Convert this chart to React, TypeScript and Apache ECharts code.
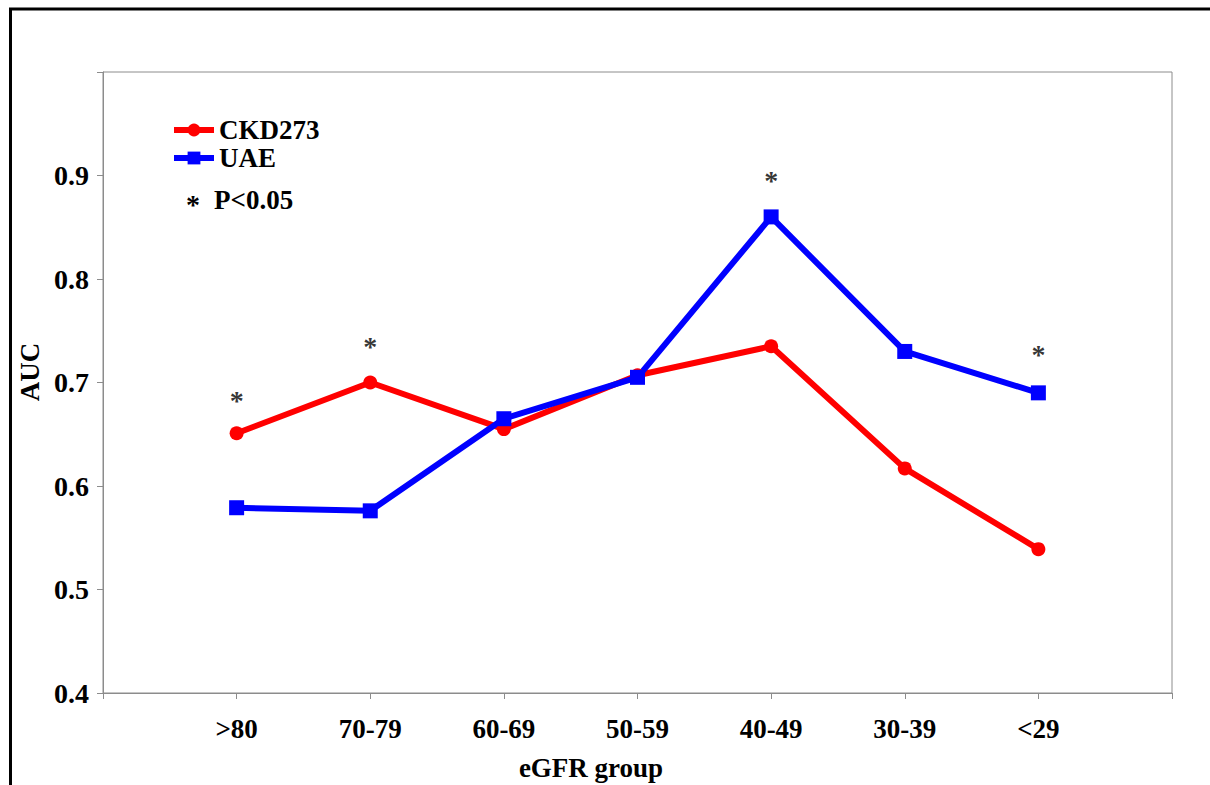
import React, { useEffect, useRef } from 'react';
import * as echarts from 'echarts';

const categories = ['', '>80', '70-79', '60-69', '50-59', '40-49', '30-39', '<29', ''];
const ckd273 = [null, 0.651, 0.7, 0.655, 0.707, 0.735, 0.617, 0.539, null];
const uae = [null, 0.579, 0.576, 0.665, 0.705, 0.86, 0.73, 0.69, null];
const significanceMarks = [null, 0.683, 0.735, null, null, 0.895, null, 0.727, null];
const yMin = 0.4;
const yMax = 1.0;
const yStep = 0.1;

const FONT = "'Liberation Serif', 'Times New Roman', serif";
const FS = 27;

export default function App() {
  const ref = useRef<HTMLDivElement>(null);
  useEffect(() => {
    if (!ref.current) return;
    const chart = echarts.init(ref.current, undefined, { renderer: 'svg' });
    chart.setOption({
      animation: false,
      backgroundColor: '#fff',
      grid: {
        left: 103,
        top: 72,
        right: 1210 - 1172,
        bottom: 785 - 693,
        show: true,
        borderColor: '#8c8c8c',
        borderWidth: 1,
        containLabel: false,
      },
      legend: {
        orient: 'vertical',
        left: 166,
        top: 111,
        itemWidth: 40,
        itemHeight: 16,
        itemGap: 0,
        data: ['CKD273', 'UAE'],
        lineStyle: { width: 6 },
        textStyle: { fontFamily: FONT, fontWeight: 'bold', fontSize: FS, lineHeight: 28, color: '#000' },
      },
      xAxis: {
        type: 'category',
        data: categories,
        boundaryGap: false,
        axisLine: { lineStyle: { color: '#8c8c8c', width: 1 } },
        axisTick: { show: true, length: 6, alignWithLabel: true, interval: 0, lineStyle: { color: '#8c8c8c' } },
        axisLabel: { interval: 0, margin: 22, fontFamily: FONT, fontWeight: 'bold', fontSize: FS, color: '#000' },
        splitLine: { show: false },
      },
      yAxis: {
        type: 'value',
        min: yMin,
        max: yMax,
        interval: yStep,
        axisLine: { show: true, lineStyle: { color: '#8c8c8c', width: 1 } },
        axisTick: { show: true, length: 6, lineStyle: { color: '#8c8c8c' } },
        axisLabel: {
          margin: 14,
          fontFamily: FONT,
          fontWeight: 'bold',
          fontSize: 28,
          color: '#000',
          formatter: (v: number) => (v > 0.95 ? '' : v.toFixed(1)),
        },
        splitLine: { show: false },
      },
      series: [
        {
          name: 'CKD273',
          type: 'line',
          data: ckd273,
          symbol: 'circle',
          symbolSize: 14,
          lineStyle: { color: '#ff0000', width: 6 },
          itemStyle: { color: '#ff0000' },
        },
        {
          name: 'UAE',
          type: 'line',
          data: uae,
          symbol: 'rect',
          symbolSize: 15,
          lineStyle: { color: '#0000ff', width: 6 },
          itemStyle: { color: '#0000ff' },
        },
        {
          name: 'P<0.05',
          type: 'scatter',
          data: significanceMarks,
          symbolSize: 0,
          itemStyle: { color: '#000' },
          label: {
            show: true,
            position: 'inside',
            formatter: '*',
            fontFamily: FONT,
            fontWeight: 'bold',
            fontSize: 28,
            color: '#000',
          },
        },
      ],
      graphic: [
        {
          type: 'rect',
          shape: { x: 10.5, y: 9, width: 1400, height: 1000 },
          style: { fill: 'none', stroke: '#000', lineWidth: 3 },
          silent: true,
        },
        {
          type: 'text',
          x: 193,
          y: 204,
          style: { text: '*', fontFamily: FONT, fontSize: 28, fontWeight: 'bold', fill: '#000', align: 'center', verticalAlign: 'middle' },
        },
        {
          type: 'text',
          x: 214,
          y: 200,
          style: { text: 'P<0.05', fontFamily: FONT, fontSize: FS, fontWeight: 'bold', fill: '#000', align: 'left', verticalAlign: 'middle' },
        },
        {
          type: 'text',
          x: 591,
          y: 768,
          style: { text: 'eGFR group', fontFamily: FONT, fontSize: FS, fontWeight: 'bold', fill: '#000', align: 'center', verticalAlign: 'middle' },
        },
        {
          type: 'text',
          x: 30,
          y: 372,
          rotation: Math.PI / 2,
          style: { text: 'AUC', fontFamily: FONT, fontSize: FS, fontWeight: 'bold', fill: '#000', align: 'center', verticalAlign: 'middle' },
        },
      ],
    });
    return () => chart.dispose();
  }, []);
  return <div ref={ref} style={{ position: 'fixed', left: 0, top: 0, width: 1210, height: 785 }} />;
}
